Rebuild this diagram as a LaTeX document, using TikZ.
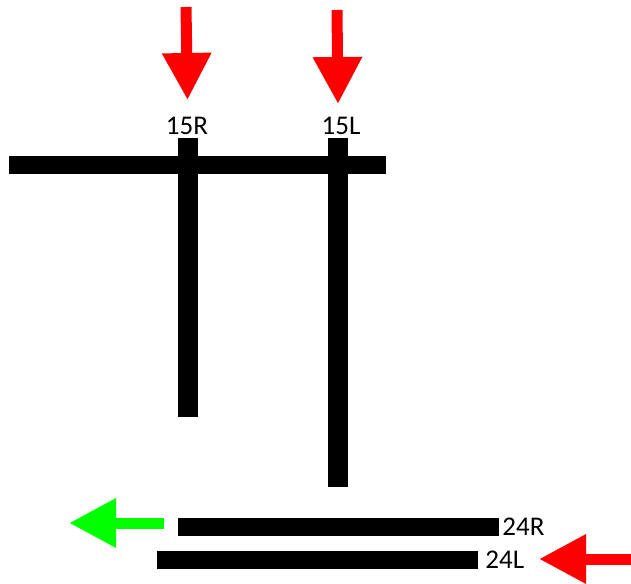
\documentclass[tikz,border=0pt]{standalone}
\usepackage{fontspec}
\setmainfont{Carlito}
\usetikzlibrary{arrows.meta,positioning}

\begin{document}
\begin{tikzpicture}[x=1pt,y=-1pt,
                    runwayh/.style={fill=black,inner sep=0,minimum width=321pt,minimum height=18pt},
                    runwayv/.style={fill=black,inner sep=0,minimum width=20pt},
                    lbl/.style={inner sep=0,font=\fontsize{27}{27}\selectfont},
                    traffic/.style={line width=11pt,-{Triangle[width=46.5pt,length=47pt]}}]

\useasboundingbox (0,0) rectangle (631,583);

\node[fill=black,inner sep=0,minimum width=377pt,minimum height=18pt] (r33) at (197.5,165) {};
\node[runwayv,minimum height=279pt] (r15R) at (188,277.5) {};
\node[runwayv,minimum height=349pt] (r15L) at (338,312.5) {};
\node[runwayh] (r24R) at (338.5,527) {};
\node[runwayh] (r24L) at (317.5,560) {};

\node[lbl] (t15R) at (187,126) {15R};
\node[lbl] (t15L) at (341,126) {15L};
\node[lbl,right=3pt of r24R] (t24R) {24R};
\node[lbl,right=7pt of r24L] (t24L) {24L};

\coordinate (a15Rs) at (186,7);
\coordinate (a15Re) at (187.5,100);
\coordinate (a15Ls) at (337,10);
\coordinate (a15Le) at (338,104);
\coordinate (a24Rs) at (164,523);
\coordinate (a24Re) at (69,523);
\coordinate (a24Ls) at (631,559);
\coordinate (a24Le) at (539,559);

\draw[traffic,red] (a15Rs) -- (a15Re);
\draw[traffic,red] (a15Ls) -- (a15Le);
\draw[traffic,green] (a24Rs) -- (a24Re);
\draw[traffic,red] (a24Ls) -- (a24Le);

\end{tikzpicture}
\end{document}
